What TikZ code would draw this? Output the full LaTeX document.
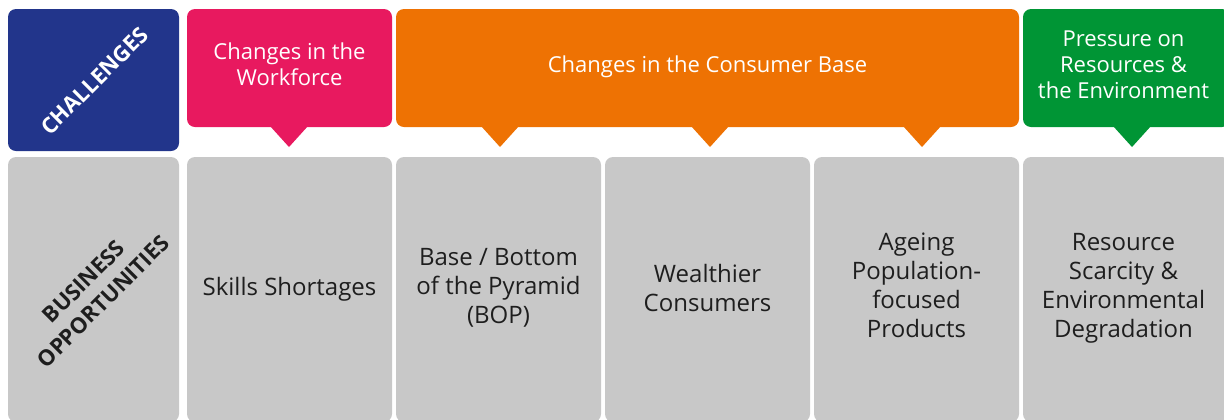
\documentclass[tikz,border=0pt]{standalone}
\usepackage{fontspec}
\setmainfont{Open Sans}
\usepackage{xcolor}
\usepackage{tikz}
\usetikzlibrary{
		fit,
		positioning
	}
\definecolor{challenges}{HTML}{22358B}
\definecolor{workforce}{HTML}{E8195F}
\definecolor{consumer}{HTML}{EE7203}
\definecolor{environment}{HTML}{009535}
\definecolor{grayscale-opportunity}{HTML}{C8C8C8}
\definecolor{grayscale-text}{HTML}{1E1E1E}
\tikzset{%
		every text node part/.style = {
			align = center
		},
		banner/.style = {
			rectangle,
			rounded corners = 4pt,
			inner sep = 0pt
		},
		bannertext/.style = {
			text = white,
			inner sep = 0pt,
			font = \fontsize{11}{13}\selectfont
		},
		opportunity/.style = {
			banner,
			fill = grayscale-opportunity
		},
		opportunitytext/.style = {
			text = grayscale-text,
			inner sep = 0pt,
			font = \fontsize{12}{14.5}\selectfont
		},
		slanted/.style = {
			rotate = 45,
			inner sep = 0pt,
			font = \bfseries\fontsize{11}{14}\selectfont
		}
	}

\begin{document}
\begin{tikzpicture}[x=0.5pt, y=-0.5pt]
		\useasboundingbox (0, 0) rectangle (1224, 419);
		% Challenges row
		\node [banner, fill = challenges, fit = {(8, 9) (179, 151)}] (chal) {};
		\node [slanted, text = white] (chaltext) at ([xshift=0.5pt, yshift=-0.5pt]chal.center) {CHALLENGES};
		\node [banner, fill = workforce, fit = {(187, 9) (392, 127)}] (workforce) {};
		\node [bannertext] (workforcetext) at ([yshift=2pt]workforce.center) {Changes in the\\Workforce};
		\node [banner, fill = consumer, fit = {(396, 9) (1019, 127)}] (consumer) {};
		\node [bannertext] (consumertext) at ([yshift=0.5pt]consumer.center) {Changes in the Consumer Base};
		\node [banner, fill = environment, fit = {(1023, 9) (1230, 127)}] (environment) {};
		\node [bannertext] (environmenttext) at ([xshift=-1.5pt, yshift=1.5pt]environment.center) {Pressure on\\Resources \&\\the Environment};
		\foreach \c/\x in {workforce/289, consumer/500, consumer/710, consumer/922, environment/1132}
			\fill [\c] (\x-19, 126) -- (\x, 147) -- (\x+19, 126) -- cycle;
		% Opportunities row
		\node [opportunity, fit = {(8, 157) (179, 422)}] (opp) {};
		\node [slanted, text = grayscale-text] (opptext) at ([xshift=0pt, yshift=-1pt]opp.center) {BUSINESS\\OPPORTUNITIES};
		\node [opportunity, fit = {(187, 157) (392, 422)}] (skills) {};
		\node [opportunitytext] (skillstext) at ([yshift=0pt]skills.center) {Skills Shortages};
		\node [opportunity, fit = {(396, 157) (601, 422)}] (bop) {};
		\node [opportunitytext] (boptext) at ([yshift=1pt]bop.center) {Base / Bottom\\of the Pyramid\\(BOP)};
		\node [opportunity, fit = {(605, 157) (810, 422)}] (wealth) {};
		\node [opportunitytext] (wealthtext) at ([yshift=1pt]wealth.center) {Wealthier\\Consumers};
		\node [opportunity, fit = {(814, 157) (1019, 422)}] (ageing) {};
		\node [opportunitytext] (ageingtext) at ([yshift=2pt]ageing.center) {Ageing\\Population-\\focused\\Products};
		\node [opportunity, fit = {(1023, 157) (1230, 422)}] (scarcity) {};
		\node [opportunitytext] (scarcitytext) at ([xshift=-1.5pt, yshift=0.5pt]scarcity.center) {Resource\\Scarcity \&\\Environmental\\Degradation};
	\end{tikzpicture}
\end{document}
